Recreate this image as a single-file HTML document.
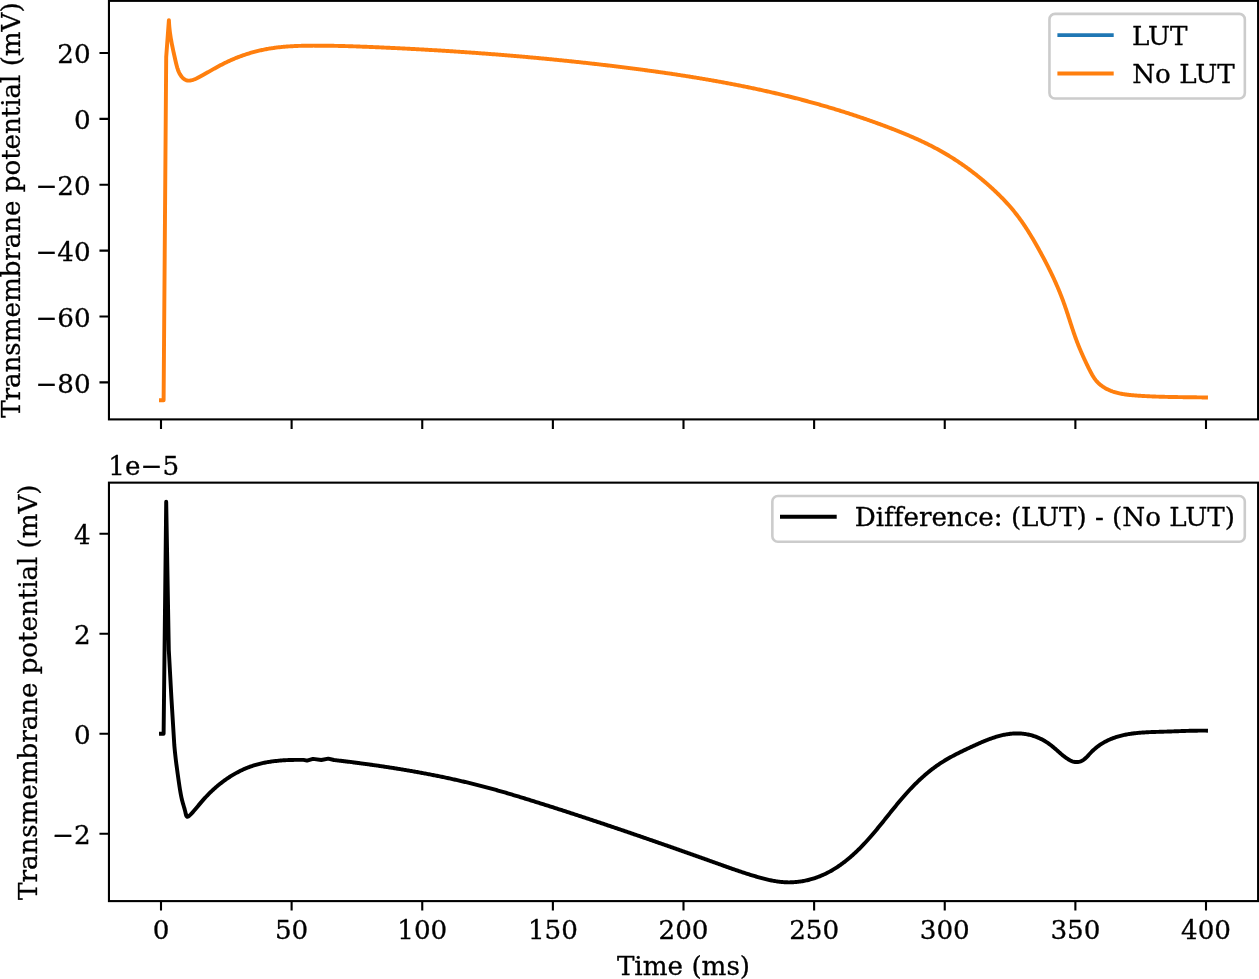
<!DOCTYPE html>
<html lang="en"><head><meta charset="utf-8"><title>LUT vs No LUT</title>
<style>html,body{margin:0;padding:0;background:#fff;}svg{display:block;}text{font-family:"DejaVu Serif", "Liberation Serif", serif;font-size:26.2px;fill:#000;stroke:#000;stroke-width:0.3px;stroke-linejoin:round;font-variant-ligatures:none;font-kerning:normal;}</style></head><body>
<svg width="1259" height="979" viewBox="0 0 1259 979">
<rect x="0" y="0" width="1259" height="979" fill="#fff"/>
<path d="M161.00,419.40v9.5 M291.62,419.40v9.5 M422.25,419.40v9.5 M552.88,419.40v9.5 M683.50,419.40v9.5 M814.12,419.40v9.5 M944.75,419.40v9.5 M1075.38,419.40v9.5 M1206.00,419.40v9.5 M108.95,53.00h-9.5 M108.95,118.88h-9.5 M108.95,184.76h-9.5 M108.95,250.64h-9.5 M108.95,316.52h-9.5 M108.95,382.40h-9.5" stroke="#000" stroke-width="2.1" fill="none"/>
<text x="90.7" y="63.10" text-anchor="end">20</text>
<text x="90.7" y="128.98" text-anchor="end">0</text>
<text x="90.7" y="194.86" text-anchor="end">−20</text>
<text x="90.7" y="260.74" text-anchor="end">−40</text>
<text x="90.7" y="326.62" text-anchor="end">−60</text>
<text x="90.7" y="392.50" text-anchor="end">−80</text>
<clipPath id="c1"><rect x="108.95" y="0.85" width="1149.1499999999999" height="418.54999999999995"/></clipPath>
<g clip-path="url(#c1)" fill="none" stroke-width="3.93" stroke-linejoin="round" stroke-linecap="square">
<path d="M161.00,400.30 L163.60,400.30 L166.20,57.00 L168.90,20.10 L168.94,21.14 L168.99,22.17 L169.05,23.19 L169.12,24.21 L169.19,25.23 L169.27,26.24 L169.36,27.24 L169.46,28.24 L169.56,29.23 L169.67,30.22 L169.79,31.21 L169.91,32.19 L170.04,33.17 L170.18,34.15 L170.32,35.12 L170.46,36.09 L170.62,37.06 L170.77,38.03 L170.94,39.00 L171.11,39.96 L171.28,40.93 L171.46,41.89 L171.64,42.86 L171.82,43.82 L172.02,44.78 L172.21,45.75 L172.41,46.71 L172.61,47.68 L172.81,48.65 L173.02,49.62 L173.23,50.59 L173.44,51.56 L173.66,52.54 L173.87,53.52 L174.09,54.50 L174.32,55.48 L174.54,56.47 L174.76,57.47 L174.99,58.46 L175.22,59.47 L175.45,60.47 L175.67,61.49 L175.91,62.50 L176.14,63.52 L176.39,64.53 L176.65,65.54 L176.92,66.55 L177.20,67.55 L177.51,68.53 L177.83,69.50 L178.18,70.46 L178.56,71.40 L178.96,72.32 L179.40,73.21 L179.87,74.09 L180.38,74.93 L180.93,75.75 L181.51,76.52 L182.13,77.25 L182.79,77.93 L183.48,78.55 L184.20,79.11 L184.96,79.58 L185.75,79.98 L186.57,80.29 L187.42,80.50 L188.30,80.61 L189.20,80.62 L190.12,80.54 L191.06,80.38 L192.02,80.16 L192.99,79.86 L193.96,79.52 L194.94,79.12 L195.92,78.69 L196.89,78.23 L197.86,77.74 L198.82,77.25 L199.77,76.75 L200.70,76.25 L201.61,75.75 L202.52,75.26 L203.41,74.76 L204.29,74.27 L205.16,73.78 L206.03,73.29 L206.90,72.80 L207.76,72.32 L208.61,71.83 L209.47,71.34 L210.33,70.86 L211.19,70.37 L212.05,69.88 L212.92,69.40 L213.78,68.91 L214.65,68.43 L215.52,67.95 L216.39,67.47 L217.26,66.99 L218.14,66.52 L219.02,66.05 L219.89,65.58 L220.78,65.11 L221.66,64.65 L222.55,64.19 L223.43,63.74 L224.32,63.29 L225.22,62.84 L226.11,62.40 L227.01,61.97 L227.92,61.54 L228.82,61.12 L229.73,60.70 L230.64,60.29 L231.55,59.88 L232.47,59.48 L233.39,59.08 L234.31,58.70 L235.24,58.31 L236.16,57.94 L237.09,57.56 L238.03,57.20 L238.96,56.84 L239.90,56.49 L240.84,56.14 L241.78,55.80 L242.72,55.46 L243.67,55.13 L244.62,54.81 L245.57,54.49 L246.52,54.18 L247.47,53.87 L248.43,53.57 L249.39,53.28 L250.35,52.99 L251.31,52.71 L252.27,52.43 L253.24,52.17 L254.20,51.90 L255.17,51.65 L256.14,51.39 L257.11,51.15 L258.08,50.91 L259.05,50.68 L260.03,50.45 L261.01,50.23 L261.98,50.02 L262.96,49.81 L263.94,49.61 L264.92,49.41 L265.90,49.22 L266.88,49.04 L267.87,48.87 L268.85,48.69 L269.83,48.53 L270.82,48.37 L271.81,48.22 L272.79,48.07 L273.78,47.93 L274.77,47.80 L275.76,47.66 L276.75,47.54 L277.74,47.42 L278.73,47.30 L279.72,47.19 L280.71,47.09 L281.71,46.99 L282.70,46.89 L283.69,46.80 L284.69,46.72 L285.68,46.63 L286.68,46.55 L287.68,46.48 L288.67,46.41 L289.67,46.34 L290.67,46.28 L291.66,46.22 L292.66,46.17 L293.66,46.12 L294.66,46.07 L295.66,46.02 L296.66,45.98 L297.66,45.94 L298.66,45.91 L299.66,45.88 L300.66,45.85 L301.66,45.82 L302.66,45.79 L303.66,45.77 L304.66,45.75 L305.66,45.74 L306.67,45.72 L307.67,45.71 L308.67,45.69 L309.67,45.69 L310.67,45.68 L311.67,45.67 L312.68,45.67 L313.68,45.66 L314.68,45.66 L315.68,45.66 L316.68,45.66 L317.68,45.66 L318.68,45.66 L319.69,45.67 L320.69,45.67 L321.69,45.68 L322.69,45.69 L323.69,45.69 L324.69,45.70 L325.69,45.71 L326.69,45.72 L327.69,45.74 L328.69,45.75 L329.69,45.76 L330.69,45.78 L331.69,45.79 L332.69,45.81 L333.69,45.83 L334.69,45.85 L335.69,45.86 L336.69,45.88 L337.69,45.91 L338.69,45.93 L339.69,45.95 L340.69,45.97 L341.69,46.00 L342.69,46.02 L343.69,46.05 L344.69,46.08 L345.69,46.10 L346.69,46.13 L347.69,46.16 L348.69,46.19 L349.69,46.22 L350.69,46.25 L351.69,46.28 L352.69,46.31 L353.69,46.35 L354.69,46.38 L355.69,46.41 L356.68,46.45 L357.68,46.48 L358.68,46.52 L359.68,46.55 L360.68,46.59 L361.68,46.63 L362.68,46.67 L363.68,46.70 L364.68,46.74 L365.68,46.78 L366.67,46.82 L367.67,46.86 L368.67,46.90 L369.67,46.94 L370.67,46.98 L371.67,47.02 L372.67,47.07 L373.67,47.11 L374.66,47.15 L375.66,47.19 L376.66,47.24 L377.66,47.28 L378.66,47.33 L379.66,47.37 L380.66,47.41 L381.66,47.46 L382.65,47.50 L383.65,47.55 L384.65,47.59 L385.65,47.64 L386.65,47.69 L387.65,47.73 L388.65,47.78 L389.64,47.82 L390.64,47.87 L391.64,47.92 L392.64,47.97 L393.64,48.01 L394.64,48.06 L395.64,48.11 L396.63,48.16 L397.63,48.21 L398.63,48.26 L399.63,48.31 L400.63,48.36 L401.63,48.41 L402.63,48.46 L403.62,48.51 L404.62,48.56 L405.62,48.61 L406.62,48.66 L407.62,48.71 L408.62,48.76 L409.61,48.82 L410.61,48.87 L411.61,48.92 L412.61,48.98 L413.61,49.03 L414.61,49.08 L415.60,49.14 L416.60,49.19 L417.60,49.24 L418.60,49.30 L419.60,49.35 L420.60,49.41 L421.59,49.47 L422.59,49.52 L423.59,49.58 L424.59,49.63 L425.59,49.69 L426.59,49.75 L427.58,49.81 L428.58,49.86 L429.58,49.92 L430.58,49.98 L431.58,50.04 L432.58,50.10 L433.57,50.16 L434.57,50.21 L435.57,50.27 L436.57,50.33 L437.57,50.39 L438.56,50.45 L439.56,50.52 L440.56,50.58 L441.56,50.64 L442.56,50.70 L443.55,50.76 L444.55,50.82 L445.55,50.89 L446.55,50.95 L447.55,51.01 L448.54,51.08 L449.54,51.14 L450.54,51.20 L451.54,51.27 L452.53,51.33 L453.53,51.40 L454.53,51.46 L455.53,51.53 L456.53,51.59 L457.52,51.66 L458.52,51.73 L459.52,51.79 L460.52,51.86 L461.51,51.93 L462.51,52.00 L463.51,52.06 L464.51,52.13 L465.50,52.20 L466.50,52.27 L467.50,52.34 L468.50,52.41 L469.50,52.48 L470.49,52.55 L471.49,52.62 L472.49,52.69 L473.48,52.76 L474.48,52.83 L475.48,52.90 L476.48,52.98 L477.47,53.05 L478.47,53.12 L479.47,53.19 L480.47,53.27 L481.46,53.34 L482.46,53.42 L483.46,53.49 L484.46,53.56 L485.45,53.64 L486.45,53.71 L487.45,53.79 L488.44,53.87 L489.44,53.94 L490.44,54.02 L491.44,54.09 L492.43,54.17 L493.43,54.25 L494.43,54.33 L495.42,54.41 L496.42,54.48 L497.42,54.56 L498.41,54.64 L499.41,54.72 L500.41,54.80 L501.40,54.88 L502.40,54.96 L503.40,55.04 L504.39,55.12 L505.39,55.20 L506.39,55.29 L507.38,55.37 L508.38,55.45 L509.38,55.53 L510.37,55.62 L511.37,55.70 L512.37,55.78 L513.36,55.87 L514.36,55.95 L515.36,56.03 L516.35,56.12 L517.35,56.21 L518.35,56.29 L519.34,56.38 L520.34,56.46 L521.33,56.55 L522.33,56.64 L523.33,56.72 L524.32,56.81 L525.32,56.90 L526.32,56.99 L527.31,57.08 L528.31,57.17 L529.30,57.25 L530.30,57.34 L531.30,57.43 L532.29,57.52 L533.29,57.62 L534.28,57.71 L535.28,57.80 L536.28,57.89 L537.27,57.98 L538.27,58.07 L539.26,58.17 L540.26,58.26 L541.25,58.35 L542.25,58.45 L543.25,58.54 L544.24,58.64 L545.24,58.73 L546.23,58.83 L547.23,58.92 L548.22,59.02 L549.22,59.11 L550.21,59.21 L551.21,59.31 L552.20,59.40 L553.20,59.50 L554.20,59.60 L555.19,59.70 L556.19,59.80 L557.18,59.90 L558.18,59.99 L559.17,60.09 L560.17,60.19 L561.16,60.29 L562.16,60.40 L563.15,60.50 L564.15,60.60 L565.14,60.70 L566.14,60.80 L567.13,60.90 L568.13,61.01 L569.12,61.11 L570.12,61.21 L571.11,61.32 L572.10,61.42 L573.10,61.53 L574.09,61.63 L575.09,61.74 L576.08,61.84 L577.08,61.95 L578.07,62.06 L579.07,62.16 L580.06,62.27 L581.05,62.38 L582.05,62.49 L583.04,62.60 L584.04,62.70 L585.03,62.81 L586.03,62.92 L587.02,63.03 L588.01,63.14 L589.01,63.25 L590.00,63.36 L591.00,63.48 L591.99,63.59 L592.98,63.70 L593.98,63.81 L594.97,63.93 L595.96,64.04 L596.96,64.15 L597.95,64.27 L598.95,64.38 L599.94,64.49 L600.93,64.61 L601.93,64.73 L602.92,64.84 L603.91,64.96 L604.91,65.07 L605.90,65.19 L606.89,65.31 L607.89,65.43 L608.88,65.54 L609.87,65.66 L610.87,65.78 L611.86,65.90 L612.85,66.02 L613.85,66.14 L614.84,66.26 L615.83,66.38 L616.82,66.50 L617.82,66.62 L618.81,66.75 L619.80,66.87 L620.80,66.99 L621.79,67.11 L622.78,67.24 L623.77,67.36 L624.77,67.49 L625.76,67.61 L626.75,67.74 L627.74,67.86 L628.74,67.99 L629.73,68.11 L630.72,68.24 L631.71,68.37 L632.70,68.49 L633.70,68.62 L634.69,68.75 L635.68,68.88 L636.67,69.01 L637.66,69.14 L638.66,69.27 L639.65,69.40 L640.64,69.53 L641.63,69.66 L642.62,69.79 L643.61,69.92 L644.61,70.06 L645.60,70.19 L646.59,70.32 L647.58,70.46 L648.57,70.59 L649.56,70.73 L650.55,70.86 L651.54,71.00 L652.54,71.13 L653.53,71.27 L654.52,71.41 L655.51,71.55 L656.50,71.69 L657.49,71.82 L658.48,71.96 L659.47,72.10 L660.46,72.24 L661.45,72.38 L662.44,72.53 L663.43,72.67 L664.42,72.81 L665.41,72.95 L666.40,73.10 L667.39,73.24 L668.38,73.39 L669.37,73.53 L670.36,73.68 L671.35,73.82 L672.34,73.97 L673.33,74.12 L674.32,74.27 L675.30,74.41 L676.29,74.56 L677.28,74.71 L678.27,74.86 L679.26,75.01 L680.25,75.17 L681.24,75.32 L682.22,75.47 L683.21,75.62 L684.20,75.78 L685.19,75.93 L686.18,76.09 L687.16,76.24 L688.15,76.40 L689.14,76.56 L690.13,76.71 L691.11,76.87 L692.10,77.03 L693.09,77.19 L694.07,77.35 L695.06,77.51 L696.05,77.67 L697.03,77.83 L698.02,78.00 L699.01,78.16 L699.99,78.32 L700.98,78.49 L701.97,78.65 L702.95,78.82 L703.94,78.99 L704.92,79.15 L705.91,79.32 L706.89,79.49 L707.88,79.66 L708.86,79.83 L709.85,80.00 L710.83,80.17 L711.82,80.35 L712.80,80.52 L713.79,80.69 L714.77,80.87 L715.76,81.04 L716.74,81.22 L717.72,81.39 L718.71,81.57 L719.69,81.75 L720.67,81.93 L721.66,82.11 L722.64,82.29 L723.62,82.47 L724.61,82.65 L725.59,82.83 L726.57,83.02 L727.55,83.20 L728.54,83.39 L729.52,83.57 L730.50,83.76 L731.48,83.95 L732.46,84.13 L733.44,84.32 L734.43,84.51 L735.41,84.70 L736.39,84.89 L737.37,85.09 L738.35,85.28 L739.33,85.47 L740.31,85.67 L741.29,85.86 L742.27,86.06 L743.25,86.26 L744.23,86.45 L745.21,86.65 L746.19,86.85 L747.17,87.05 L748.14,87.25 L749.12,87.45 L750.10,87.66 L751.08,87.86 L752.06,88.07 L753.04,88.27 L754.01,88.48 L754.99,88.68 L755.97,88.89 L756.95,89.10 L757.92,89.31 L758.90,89.52 L759.88,89.73 L760.85,89.95 L761.83,90.16 L762.81,90.37 L763.78,90.59 L764.76,90.80 L765.73,91.02 L766.71,91.24 L767.68,91.46 L768.66,91.68 L769.63,91.90 L770.61,92.12 L771.58,92.34 L772.55,92.57 L773.53,92.79 L774.50,93.02 L775.48,93.24 L776.45,93.47 L777.42,93.70 L778.39,93.93 L779.37,94.16 L780.34,94.39 L781.31,94.62 L782.28,94.85 L783.26,95.09 L784.23,95.32 L785.20,95.56 L786.17,95.80 L787.14,96.03 L788.11,96.27 L789.08,96.51 L790.05,96.75 L791.02,97.00 L791.99,97.24 L792.96,97.48 L793.93,97.73 L794.90,97.98 L795.87,98.22 L796.84,98.47 L797.81,98.72 L798.77,98.97 L799.74,99.22 L800.71,99.47 L801.68,99.73 L802.64,99.98 L803.61,100.24 L804.58,100.49 L805.54,100.75 L806.51,101.01 L807.48,101.27 L808.44,101.53 L809.41,101.79 L810.37,102.06 L811.34,102.32 L812.30,102.59 L813.27,102.85 L814.23,103.12 L815.20,103.39 L816.16,103.66 L817.12,103.93 L818.09,104.20 L819.05,104.47 L820.01,104.75 L820.97,105.02 L821.94,105.30 L822.90,105.57 L823.86,105.85 L824.82,106.13 L825.78,106.41 L826.74,106.69 L827.70,106.97 L828.66,107.26 L829.62,107.54 L830.58,107.83 L831.54,108.12 L832.50,108.40 L833.46,108.69 L834.42,108.98 L835.37,109.27 L836.33,109.57 L837.29,109.86 L838.24,110.15 L839.20,110.45 L840.16,110.75 L841.11,111.04 L842.07,111.34 L843.02,111.64 L843.98,111.94 L844.93,112.25 L845.89,112.55 L846.84,112.86 L847.79,113.16 L848.75,113.47 L849.70,113.78 L850.65,114.08 L851.61,114.39 L852.56,114.71 L853.51,115.02 L854.46,115.33 L855.41,115.65 L856.36,115.96 L857.31,116.28 L858.26,116.60 L859.21,116.91 L860.16,117.24 L861.11,117.56 L862.05,117.88 L863.00,118.20 L863.95,118.53 L864.89,118.85 L865.84,119.18 L866.79,119.51 L867.73,119.84 L868.68,120.17 L869.62,120.50 L870.57,120.83 L871.51,121.17 L872.45,121.50 L873.40,121.84 L874.34,122.17 L875.28,122.51 L876.22,122.85 L877.16,123.19 L878.11,123.53 L879.05,123.88 L879.99,124.22 L880.93,124.57 L881.87,124.91 L882.80,125.26 L883.74,125.61 L884.68,125.96 L885.62,126.31 L886.55,126.66 L887.49,127.01 L888.43,127.37 L889.36,127.72 L890.30,128.08 L891.23,128.44 L892.17,128.80 L893.10,129.16 L894.03,129.52 L894.96,129.89 L895.90,130.25 L896.83,130.62 L897.76,130.99 L898.69,131.36 L899.61,131.73 L900.54,132.10 L901.47,132.48 L902.40,132.85 L903.32,133.23 L904.25,133.61 L905.17,134.00 L906.09,134.38 L907.01,134.77 L907.94,135.15 L908.86,135.55 L909.77,135.94 L910.69,136.33 L911.61,136.73 L912.53,137.13 L913.44,137.53 L914.35,137.93 L915.27,138.34 L916.18,138.74 L917.09,139.15 L918.00,139.57 L918.91,139.98 L919.81,140.40 L920.72,140.82 L921.62,141.24 L922.53,141.67 L923.43,142.09 L924.33,142.52 L925.23,142.96 L926.13,143.39 L927.02,143.83 L927.92,144.27 L928.81,144.72 L929.70,145.16 L930.59,145.61 L931.48,146.07 L932.37,146.52 L933.26,146.98 L934.14,147.44 L935.02,147.91 L935.90,148.38 L936.78,148.85 L937.66,149.32 L938.54,149.80 L939.41,150.28 L940.28,150.77 L941.16,151.25 L942.02,151.75 L942.89,152.24 L943.76,152.74 L944.62,153.24 L945.48,153.75 L946.34,154.25 L947.20,154.77 L948.06,155.28 L948.91,155.80 L949.77,156.32 L950.62,156.85 L951.47,157.37 L952.31,157.91 L953.16,158.44 L954.00,158.98 L954.84,159.52 L955.68,160.07 L956.52,160.61 L957.36,161.16 L958.19,161.72 L959.02,162.28 L959.85,162.84 L960.68,163.40 L961.50,163.97 L962.33,164.54 L963.15,165.11 L963.97,165.68 L964.79,166.26 L965.60,166.85 L966.42,167.43 L967.23,168.02 L968.04,168.61 L968.84,169.20 L969.65,169.80 L970.45,170.40 L971.25,171.00 L972.05,171.61 L972.85,172.21 L973.64,172.82 L974.43,173.44 L975.22,174.06 L976.01,174.67 L976.80,175.30 L977.58,175.92 L978.36,176.55 L979.14,177.18 L979.92,177.81 L980.69,178.45 L981.46,179.09 L982.23,179.73 L983.00,180.37 L983.77,181.02 L984.53,181.67 L985.29,182.32 L986.05,182.97 L986.80,183.63 L987.56,184.29 L988.31,184.95 L989.06,185.61 L989.80,186.28 L990.55,186.95 L991.29,187.62 L992.03,188.29 L992.77,188.97 L993.50,189.65 L994.23,190.33 L994.96,191.01 L995.69,191.70 L996.41,192.39 L997.13,193.08 L997.85,193.77 L998.57,194.47 L999.28,195.17 L999.99,195.87 L1000.70,196.58 L1001.40,197.29 L1002.10,198.00 L1002.79,198.72 L1003.49,199.43 L1004.18,200.15 L1004.86,200.88 L1005.55,201.61 L1006.22,202.34 L1006.90,203.07 L1007.57,203.81 L1008.24,204.55 L1008.90,205.29 L1009.56,206.04 L1010.22,206.79 L1010.87,207.54 L1011.52,208.30 L1012.16,209.06 L1012.80,209.83 L1013.44,210.60 L1014.07,211.37 L1014.69,212.14 L1015.32,212.92 L1015.93,213.71 L1016.55,214.49 L1017.16,215.29 L1017.76,216.08 L1018.36,216.88 L1018.96,217.68 L1019.55,218.48 L1020.13,219.29 L1020.72,220.10 L1021.30,220.92 L1021.87,221.74 L1022.44,222.56 L1023.01,223.38 L1023.58,224.21 L1024.14,225.04 L1024.69,225.87 L1025.25,226.71 L1025.80,227.54 L1026.35,228.38 L1026.89,229.22 L1027.43,230.07 L1027.97,230.92 L1028.50,231.76 L1029.03,232.62 L1029.56,233.47 L1030.09,234.32 L1030.61,235.18 L1031.13,236.04 L1031.65,236.90 L1032.17,237.76 L1032.68,238.62 L1033.19,239.49 L1033.70,240.35 L1034.20,241.22 L1034.71,242.09 L1035.21,242.96 L1035.71,243.83 L1036.21,244.70 L1036.70,245.57 L1037.20,246.44 L1037.69,247.32 L1038.18,248.19 L1038.67,249.07 L1039.16,249.94 L1039.64,250.82 L1040.13,251.70 L1040.61,252.57 L1041.09,253.45 L1041.57,254.33 L1042.04,255.21 L1042.52,256.09 L1042.99,256.97 L1043.46,257.85 L1043.93,258.74 L1044.40,259.62 L1044.86,260.51 L1045.33,261.39 L1045.79,262.28 L1046.25,263.16 L1046.70,264.05 L1047.16,264.94 L1047.61,265.83 L1048.06,266.72 L1048.51,267.61 L1048.96,268.51 L1049.40,269.40 L1049.84,270.29 L1050.28,271.19 L1050.72,272.09 L1051.15,272.98 L1051.58,273.88 L1052.01,274.78 L1052.44,275.68 L1052.86,276.59 L1053.28,277.49 L1053.70,278.39 L1054.12,279.30 L1054.53,280.21 L1054.95,281.11 L1055.35,282.02 L1055.76,282.93 L1056.16,283.84 L1056.56,284.76 L1056.96,285.67 L1057.36,286.59 L1057.75,287.50 L1058.14,288.42 L1058.53,289.34 L1058.91,290.26 L1059.29,291.18 L1059.67,292.11 L1060.04,293.03 L1060.42,293.96 L1060.78,294.89 L1061.15,295.81 L1061.51,296.74 L1061.87,297.68 L1062.23,298.61 L1062.58,299.55 L1062.93,300.48 L1063.28,301.42 L1063.62,302.36 L1063.96,303.30 L1064.30,304.24 L1064.63,305.19 L1064.96,306.13 L1065.29,307.08 L1065.62,308.03 L1065.94,308.98 L1066.26,309.93 L1066.58,310.88 L1066.90,311.83 L1067.21,312.79 L1067.53,313.74 L1067.84,314.69 L1068.15,315.65 L1068.46,316.60 L1068.77,317.56 L1069.08,318.51 L1069.39,319.47 L1069.70,320.42 L1070.01,321.38 L1070.32,322.34 L1070.63,323.29 L1070.94,324.25 L1071.25,325.20 L1071.56,326.15 L1071.87,327.11 L1072.19,328.06 L1072.50,329.01 L1072.82,329.96 L1073.14,330.91 L1073.46,331.86 L1073.78,332.81 L1074.11,333.75 L1074.43,334.70 L1074.77,335.64 L1075.10,336.58 L1075.44,337.52 L1075.78,338.46 L1076.12,339.40 L1076.47,340.33 L1076.82,341.27 L1077.17,342.20 L1077.53,343.12 L1077.90,344.05 L1078.26,344.98 L1078.63,345.90 L1079.01,346.82 L1079.38,347.74 L1079.76,348.66 L1080.15,349.58 L1080.54,350.50 L1080.93,351.41 L1081.32,352.33 L1081.72,353.24 L1082.12,354.15 L1082.53,355.06 L1082.93,355.97 L1083.34,356.88 L1083.76,357.79 L1084.17,358.70 L1084.59,359.61 L1085.02,360.52 L1085.44,361.42 L1085.87,362.33 L1086.30,363.24 L1086.73,364.14 L1087.17,365.05 L1087.61,365.96 L1088.05,366.86 L1088.50,367.77 L1088.95,368.68 L1089.40,369.58 L1089.85,370.49 L1090.31,371.39 L1090.78,372.28 L1091.26,373.17 L1091.75,374.05 L1092.25,374.93 L1092.77,375.79 L1093.29,376.64 L1093.84,377.48 L1094.40,378.30 L1094.98,379.10 L1095.57,379.89 L1096.19,380.66 L1096.83,381.41 L1097.50,382.14 L1098.19,382.85 L1098.90,383.53 L1099.64,384.19 L1100.39,384.83 L1101.17,385.44 L1101.97,386.03 L1102.79,386.61 L1103.63,387.15 L1104.48,387.68 L1105.34,388.19 L1106.23,388.67 L1107.12,389.14 L1108.02,389.58 L1108.94,390.00 L1109.87,390.41 L1110.80,390.79 L1111.74,391.15 L1112.69,391.50 L1113.64,391.82 L1114.60,392.12 L1115.56,392.41 L1116.52,392.68 L1117.49,392.93 L1118.46,393.17 L1119.44,393.39 L1120.41,393.60 L1121.39,393.79 L1122.38,393.97 L1123.36,394.14 L1124.35,394.29 L1125.34,394.44 L1126.33,394.57 L1127.32,394.70 L1128.31,394.82 L1129.31,394.93 L1130.31,395.03 L1131.30,395.12 L1132.30,395.21 L1133.30,395.30 L1134.30,395.38 L1135.30,395.46 L1136.30,395.53 L1137.30,395.61 L1138.30,395.68 L1139.30,395.74 L1140.30,395.81 L1141.30,395.87 L1142.30,395.94 L1143.29,395.99 L1144.29,396.05 L1145.29,396.11 L1146.29,396.16 L1147.29,396.21 L1148.29,396.26 L1149.29,396.31 L1150.29,396.35 L1151.29,396.40 L1152.29,396.44 L1153.29,396.48 L1154.28,396.52 L1155.28,396.56 L1156.28,396.59 L1157.28,396.63 L1158.28,396.66 L1159.28,396.69 L1160.28,396.72 L1161.28,396.75 L1162.28,396.78 L1163.28,396.81 L1164.27,396.83 L1165.27,396.86 L1166.27,396.88 L1167.27,396.90 L1168.27,396.92 L1169.27,396.95 L1170.27,396.97 L1171.27,396.98 L1172.27,397.00 L1173.27,397.02 L1174.26,397.04 L1175.26,397.05 L1176.26,397.07 L1177.26,397.08 L1178.26,397.10 L1179.26,397.11 L1180.26,397.13 L1181.26,397.14 L1182.26,397.15 L1183.26,397.17 L1184.26,397.18 L1185.26,397.19 L1186.26,397.20 L1187.26,397.22 L1188.26,397.23 L1189.26,397.24 L1190.26,397.25 L1191.26,397.27 L1192.26,397.28 L1193.26,397.29 L1194.26,397.31 L1195.26,397.32 L1196.26,397.33 L1197.26,397.35 L1198.26,397.36 L1199.26,397.38 L1200.26,397.39 L1201.26,397.41 L1202.26,397.43 L1203.26,397.45 L1204.26,397.47 L1205.26,397.49 L1206.00,397.50" stroke="#1f77b4" stroke-width="2"/>
<path d="M161.00,400.30 L163.60,400.30 L166.20,57.00 L168.90,20.10 L168.94,21.14 L168.99,22.17 L169.05,23.19 L169.12,24.21 L169.19,25.23 L169.27,26.24 L169.36,27.24 L169.46,28.24 L169.56,29.23 L169.67,30.22 L169.79,31.21 L169.91,32.19 L170.04,33.17 L170.18,34.15 L170.32,35.12 L170.46,36.09 L170.62,37.06 L170.77,38.03 L170.94,39.00 L171.11,39.96 L171.28,40.93 L171.46,41.89 L171.64,42.86 L171.82,43.82 L172.02,44.78 L172.21,45.75 L172.41,46.71 L172.61,47.68 L172.81,48.65 L173.02,49.62 L173.23,50.59 L173.44,51.56 L173.66,52.54 L173.87,53.52 L174.09,54.50 L174.32,55.48 L174.54,56.47 L174.76,57.47 L174.99,58.46 L175.22,59.47 L175.45,60.47 L175.67,61.49 L175.91,62.50 L176.14,63.52 L176.39,64.53 L176.65,65.54 L176.92,66.55 L177.20,67.55 L177.51,68.53 L177.83,69.50 L178.18,70.46 L178.56,71.40 L178.96,72.32 L179.40,73.21 L179.87,74.09 L180.38,74.93 L180.93,75.75 L181.51,76.52 L182.13,77.25 L182.79,77.93 L183.48,78.55 L184.20,79.11 L184.96,79.58 L185.75,79.98 L186.57,80.29 L187.42,80.50 L188.30,80.61 L189.20,80.62 L190.12,80.54 L191.06,80.38 L192.02,80.16 L192.99,79.86 L193.96,79.52 L194.94,79.12 L195.92,78.69 L196.89,78.23 L197.86,77.74 L198.82,77.25 L199.77,76.75 L200.70,76.25 L201.61,75.75 L202.52,75.26 L203.41,74.76 L204.29,74.27 L205.16,73.78 L206.03,73.29 L206.90,72.80 L207.76,72.32 L208.61,71.83 L209.47,71.34 L210.33,70.86 L211.19,70.37 L212.05,69.88 L212.92,69.40 L213.78,68.91 L214.65,68.43 L215.52,67.95 L216.39,67.47 L217.26,66.99 L218.14,66.52 L219.02,66.05 L219.89,65.58 L220.78,65.11 L221.66,64.65 L222.55,64.19 L223.43,63.74 L224.32,63.29 L225.22,62.84 L226.11,62.40 L227.01,61.97 L227.92,61.54 L228.82,61.12 L229.73,60.70 L230.64,60.29 L231.55,59.88 L232.47,59.48 L233.39,59.08 L234.31,58.70 L235.24,58.31 L236.16,57.94 L237.09,57.56 L238.03,57.20 L238.96,56.84 L239.90,56.49 L240.84,56.14 L241.78,55.80 L242.72,55.46 L243.67,55.13 L244.62,54.81 L245.57,54.49 L246.52,54.18 L247.47,53.87 L248.43,53.57 L249.39,53.28 L250.35,52.99 L251.31,52.71 L252.27,52.43 L253.24,52.17 L254.20,51.90 L255.17,51.65 L256.14,51.39 L257.11,51.15 L258.08,50.91 L259.05,50.68 L260.03,50.45 L261.01,50.23 L261.98,50.02 L262.96,49.81 L263.94,49.61 L264.92,49.41 L265.90,49.22 L266.88,49.04 L267.87,48.87 L268.85,48.69 L269.83,48.53 L270.82,48.37 L271.81,48.22 L272.79,48.07 L273.78,47.93 L274.77,47.80 L275.76,47.66 L276.75,47.54 L277.74,47.42 L278.73,47.30 L279.72,47.19 L280.71,47.09 L281.71,46.99 L282.70,46.89 L283.69,46.80 L284.69,46.72 L285.68,46.63 L286.68,46.55 L287.68,46.48 L288.67,46.41 L289.67,46.34 L290.67,46.28 L291.66,46.22 L292.66,46.17 L293.66,46.12 L294.66,46.07 L295.66,46.02 L296.66,45.98 L297.66,45.94 L298.66,45.91 L299.66,45.88 L300.66,45.85 L301.66,45.82 L302.66,45.79 L303.66,45.77 L304.66,45.75 L305.66,45.74 L306.67,45.72 L307.67,45.71 L308.67,45.69 L309.67,45.69 L310.67,45.68 L311.67,45.67 L312.68,45.67 L313.68,45.66 L314.68,45.66 L315.68,45.66 L316.68,45.66 L317.68,45.66 L318.68,45.66 L319.69,45.67 L320.69,45.67 L321.69,45.68 L322.69,45.69 L323.69,45.69 L324.69,45.70 L325.69,45.71 L326.69,45.72 L327.69,45.74 L328.69,45.75 L329.69,45.76 L330.69,45.78 L331.69,45.79 L332.69,45.81 L333.69,45.83 L334.69,45.85 L335.69,45.86 L336.69,45.88 L337.69,45.91 L338.69,45.93 L339.69,45.95 L340.69,45.97 L341.69,46.00 L342.69,46.02 L343.69,46.05 L344.69,46.08 L345.69,46.10 L346.69,46.13 L347.69,46.16 L348.69,46.19 L349.69,46.22 L350.69,46.25 L351.69,46.28 L352.69,46.31 L353.69,46.35 L354.69,46.38 L355.69,46.41 L356.68,46.45 L357.68,46.48 L358.68,46.52 L359.68,46.55 L360.68,46.59 L361.68,46.63 L362.68,46.67 L363.68,46.70 L364.68,46.74 L365.68,46.78 L366.67,46.82 L367.67,46.86 L368.67,46.90 L369.67,46.94 L370.67,46.98 L371.67,47.02 L372.67,47.07 L373.67,47.11 L374.66,47.15 L375.66,47.19 L376.66,47.24 L377.66,47.28 L378.66,47.33 L379.66,47.37 L380.66,47.41 L381.66,47.46 L382.65,47.50 L383.65,47.55 L384.65,47.59 L385.65,47.64 L386.65,47.69 L387.65,47.73 L388.65,47.78 L389.64,47.82 L390.64,47.87 L391.64,47.92 L392.64,47.97 L393.64,48.01 L394.64,48.06 L395.64,48.11 L396.63,48.16 L397.63,48.21 L398.63,48.26 L399.63,48.31 L400.63,48.36 L401.63,48.41 L402.63,48.46 L403.62,48.51 L404.62,48.56 L405.62,48.61 L406.62,48.66 L407.62,48.71 L408.62,48.76 L409.61,48.82 L410.61,48.87 L411.61,48.92 L412.61,48.98 L413.61,49.03 L414.61,49.08 L415.60,49.14 L416.60,49.19 L417.60,49.24 L418.60,49.30 L419.60,49.35 L420.60,49.41 L421.59,49.47 L422.59,49.52 L423.59,49.58 L424.59,49.63 L425.59,49.69 L426.59,49.75 L427.58,49.81 L428.58,49.86 L429.58,49.92 L430.58,49.98 L431.58,50.04 L432.58,50.10 L433.57,50.16 L434.57,50.21 L435.57,50.27 L436.57,50.33 L437.57,50.39 L438.56,50.45 L439.56,50.52 L440.56,50.58 L441.56,50.64 L442.56,50.70 L443.55,50.76 L444.55,50.82 L445.55,50.89 L446.55,50.95 L447.55,51.01 L448.54,51.08 L449.54,51.14 L450.54,51.20 L451.54,51.27 L452.53,51.33 L453.53,51.40 L454.53,51.46 L455.53,51.53 L456.53,51.59 L457.52,51.66 L458.52,51.73 L459.52,51.79 L460.52,51.86 L461.51,51.93 L462.51,52.00 L463.51,52.06 L464.51,52.13 L465.50,52.20 L466.50,52.27 L467.50,52.34 L468.50,52.41 L469.50,52.48 L470.49,52.55 L471.49,52.62 L472.49,52.69 L473.48,52.76 L474.48,52.83 L475.48,52.90 L476.48,52.98 L477.47,53.05 L478.47,53.12 L479.47,53.19 L480.47,53.27 L481.46,53.34 L482.46,53.42 L483.46,53.49 L484.46,53.56 L485.45,53.64 L486.45,53.71 L487.45,53.79 L488.44,53.87 L489.44,53.94 L490.44,54.02 L491.44,54.09 L492.43,54.17 L493.43,54.25 L494.43,54.33 L495.42,54.41 L496.42,54.48 L497.42,54.56 L498.41,54.64 L499.41,54.72 L500.41,54.80 L501.40,54.88 L502.40,54.96 L503.40,55.04 L504.39,55.12 L505.39,55.20 L506.39,55.29 L507.38,55.37 L508.38,55.45 L509.38,55.53 L510.37,55.62 L511.37,55.70 L512.37,55.78 L513.36,55.87 L514.36,55.95 L515.36,56.03 L516.35,56.12 L517.35,56.21 L518.35,56.29 L519.34,56.38 L520.34,56.46 L521.33,56.55 L522.33,56.64 L523.33,56.72 L524.32,56.81 L525.32,56.90 L526.32,56.99 L527.31,57.08 L528.31,57.17 L529.30,57.25 L530.30,57.34 L531.30,57.43 L532.29,57.52 L533.29,57.62 L534.28,57.71 L535.28,57.80 L536.28,57.89 L537.27,57.98 L538.27,58.07 L539.26,58.17 L540.26,58.26 L541.25,58.35 L542.25,58.45 L543.25,58.54 L544.24,58.64 L545.24,58.73 L546.23,58.83 L547.23,58.92 L548.22,59.02 L549.22,59.11 L550.21,59.21 L551.21,59.31 L552.20,59.40 L553.20,59.50 L554.20,59.60 L555.19,59.70 L556.19,59.80 L557.18,59.90 L558.18,59.99 L559.17,60.09 L560.17,60.19 L561.16,60.29 L562.16,60.40 L563.15,60.50 L564.15,60.60 L565.14,60.70 L566.14,60.80 L567.13,60.90 L568.13,61.01 L569.12,61.11 L570.12,61.21 L571.11,61.32 L572.10,61.42 L573.10,61.53 L574.09,61.63 L575.09,61.74 L576.08,61.84 L577.08,61.95 L578.07,62.06 L579.07,62.16 L580.06,62.27 L581.05,62.38 L582.05,62.49 L583.04,62.60 L584.04,62.70 L585.03,62.81 L586.03,62.92 L587.02,63.03 L588.01,63.14 L589.01,63.25 L590.00,63.36 L591.00,63.48 L591.99,63.59 L592.98,63.70 L593.98,63.81 L594.97,63.93 L595.96,64.04 L596.96,64.15 L597.95,64.27 L598.95,64.38 L599.94,64.49 L600.93,64.61 L601.93,64.73 L602.92,64.84 L603.91,64.96 L604.91,65.07 L605.90,65.19 L606.89,65.31 L607.89,65.43 L608.88,65.54 L609.87,65.66 L610.87,65.78 L611.86,65.90 L612.85,66.02 L613.85,66.14 L614.84,66.26 L615.83,66.38 L616.82,66.50 L617.82,66.62 L618.81,66.75 L619.80,66.87 L620.80,66.99 L621.79,67.11 L622.78,67.24 L623.77,67.36 L624.77,67.49 L625.76,67.61 L626.75,67.74 L627.74,67.86 L628.74,67.99 L629.73,68.11 L630.72,68.24 L631.71,68.37 L632.70,68.49 L633.70,68.62 L634.69,68.75 L635.68,68.88 L636.67,69.01 L637.66,69.14 L638.66,69.27 L639.65,69.40 L640.64,69.53 L641.63,69.66 L642.62,69.79 L643.61,69.92 L644.61,70.06 L645.60,70.19 L646.59,70.32 L647.58,70.46 L648.57,70.59 L649.56,70.73 L650.55,70.86 L651.54,71.00 L652.54,71.13 L653.53,71.27 L654.52,71.41 L655.51,71.55 L656.50,71.69 L657.49,71.82 L658.48,71.96 L659.47,72.10 L660.46,72.24 L661.45,72.38 L662.44,72.53 L663.43,72.67 L664.42,72.81 L665.41,72.95 L666.40,73.10 L667.39,73.24 L668.38,73.39 L669.37,73.53 L670.36,73.68 L671.35,73.82 L672.34,73.97 L673.33,74.12 L674.32,74.27 L675.30,74.41 L676.29,74.56 L677.28,74.71 L678.27,74.86 L679.26,75.01 L680.25,75.17 L681.24,75.32 L682.22,75.47 L683.21,75.62 L684.20,75.78 L685.19,75.93 L686.18,76.09 L687.16,76.24 L688.15,76.40 L689.14,76.56 L690.13,76.71 L691.11,76.87 L692.10,77.03 L693.09,77.19 L694.07,77.35 L695.06,77.51 L696.05,77.67 L697.03,77.83 L698.02,78.00 L699.01,78.16 L699.99,78.32 L700.98,78.49 L701.97,78.65 L702.95,78.82 L703.94,78.99 L704.92,79.15 L705.91,79.32 L706.89,79.49 L707.88,79.66 L708.86,79.83 L709.85,80.00 L710.83,80.17 L711.82,80.35 L712.80,80.52 L713.79,80.69 L714.77,80.87 L715.76,81.04 L716.74,81.22 L717.72,81.39 L718.71,81.57 L719.69,81.75 L720.67,81.93 L721.66,82.11 L722.64,82.29 L723.62,82.47 L724.61,82.65 L725.59,82.83 L726.57,83.02 L727.55,83.20 L728.54,83.39 L729.52,83.57 L730.50,83.76 L731.48,83.95 L732.46,84.13 L733.44,84.32 L734.43,84.51 L735.41,84.70 L736.39,84.89 L737.37,85.09 L738.35,85.28 L739.33,85.47 L740.31,85.67 L741.29,85.86 L742.27,86.06 L743.25,86.26 L744.23,86.45 L745.21,86.65 L746.19,86.85 L747.17,87.05 L748.14,87.25 L749.12,87.45 L750.10,87.66 L751.08,87.86 L752.06,88.07 L753.04,88.27 L754.01,88.48 L754.99,88.68 L755.97,88.89 L756.95,89.10 L757.92,89.31 L758.90,89.52 L759.88,89.73 L760.85,89.95 L761.83,90.16 L762.81,90.37 L763.78,90.59 L764.76,90.80 L765.73,91.02 L766.71,91.24 L767.68,91.46 L768.66,91.68 L769.63,91.90 L770.61,92.12 L771.58,92.34 L772.55,92.57 L773.53,92.79 L774.50,93.02 L775.48,93.24 L776.45,93.47 L777.42,93.70 L778.39,93.93 L779.37,94.16 L780.34,94.39 L781.31,94.62 L782.28,94.85 L783.26,95.09 L784.23,95.32 L785.20,95.56 L786.17,95.80 L787.14,96.03 L788.11,96.27 L789.08,96.51 L790.05,96.75 L791.02,97.00 L791.99,97.24 L792.96,97.48 L793.93,97.73 L794.90,97.98 L795.87,98.22 L796.84,98.47 L797.81,98.72 L798.77,98.97 L799.74,99.22 L800.71,99.47 L801.68,99.73 L802.64,99.98 L803.61,100.24 L804.58,100.49 L805.54,100.75 L806.51,101.01 L807.48,101.27 L808.44,101.53 L809.41,101.79 L810.37,102.06 L811.34,102.32 L812.30,102.59 L813.27,102.85 L814.23,103.12 L815.20,103.39 L816.16,103.66 L817.12,103.93 L818.09,104.20 L819.05,104.47 L820.01,104.75 L820.97,105.02 L821.94,105.30 L822.90,105.57 L823.86,105.85 L824.82,106.13 L825.78,106.41 L826.74,106.69 L827.70,106.97 L828.66,107.26 L829.62,107.54 L830.58,107.83 L831.54,108.12 L832.50,108.40 L833.46,108.69 L834.42,108.98 L835.37,109.27 L836.33,109.57 L837.29,109.86 L838.24,110.15 L839.20,110.45 L840.16,110.75 L841.11,111.04 L842.07,111.34 L843.02,111.64 L843.98,111.94 L844.93,112.25 L845.89,112.55 L846.84,112.86 L847.79,113.16 L848.75,113.47 L849.70,113.78 L850.65,114.08 L851.61,114.39 L852.56,114.71 L853.51,115.02 L854.46,115.33 L855.41,115.65 L856.36,115.96 L857.31,116.28 L858.26,116.60 L859.21,116.91 L860.16,117.24 L861.11,117.56 L862.05,117.88 L863.00,118.20 L863.95,118.53 L864.89,118.85 L865.84,119.18 L866.79,119.51 L867.73,119.84 L868.68,120.17 L869.62,120.50 L870.57,120.83 L871.51,121.17 L872.45,121.50 L873.40,121.84 L874.34,122.17 L875.28,122.51 L876.22,122.85 L877.16,123.19 L878.11,123.53 L879.05,123.88 L879.99,124.22 L880.93,124.57 L881.87,124.91 L882.80,125.26 L883.74,125.61 L884.68,125.96 L885.62,126.31 L886.55,126.66 L887.49,127.01 L888.43,127.37 L889.36,127.72 L890.30,128.08 L891.23,128.44 L892.17,128.80 L893.10,129.16 L894.03,129.52 L894.96,129.89 L895.90,130.25 L896.83,130.62 L897.76,130.99 L898.69,131.36 L899.61,131.73 L900.54,132.10 L901.47,132.48 L902.40,132.85 L903.32,133.23 L904.25,133.61 L905.17,134.00 L906.09,134.38 L907.01,134.77 L907.94,135.15 L908.86,135.55 L909.77,135.94 L910.69,136.33 L911.61,136.73 L912.53,137.13 L913.44,137.53 L914.35,137.93 L915.27,138.34 L916.18,138.74 L917.09,139.15 L918.00,139.57 L918.91,139.98 L919.81,140.40 L920.72,140.82 L921.62,141.24 L922.53,141.67 L923.43,142.09 L924.33,142.52 L925.23,142.96 L926.13,143.39 L927.02,143.83 L927.92,144.27 L928.81,144.72 L929.70,145.16 L930.59,145.61 L931.48,146.07 L932.37,146.52 L933.26,146.98 L934.14,147.44 L935.02,147.91 L935.90,148.38 L936.78,148.85 L937.66,149.32 L938.54,149.80 L939.41,150.28 L940.28,150.77 L941.16,151.25 L942.02,151.75 L942.89,152.24 L943.76,152.74 L944.62,153.24 L945.48,153.75 L946.34,154.25 L947.20,154.77 L948.06,155.28 L948.91,155.80 L949.77,156.32 L950.62,156.85 L951.47,157.37 L952.31,157.91 L953.16,158.44 L954.00,158.98 L954.84,159.52 L955.68,160.07 L956.52,160.61 L957.36,161.16 L958.19,161.72 L959.02,162.28 L959.85,162.84 L960.68,163.40 L961.50,163.97 L962.33,164.54 L963.15,165.11 L963.97,165.68 L964.79,166.26 L965.60,166.85 L966.42,167.43 L967.23,168.02 L968.04,168.61 L968.84,169.20 L969.65,169.80 L970.45,170.40 L971.25,171.00 L972.05,171.61 L972.85,172.21 L973.64,172.82 L974.43,173.44 L975.22,174.06 L976.01,174.67 L976.80,175.30 L977.58,175.92 L978.36,176.55 L979.14,177.18 L979.92,177.81 L980.69,178.45 L981.46,179.09 L982.23,179.73 L983.00,180.37 L983.77,181.02 L984.53,181.67 L985.29,182.32 L986.05,182.97 L986.80,183.63 L987.56,184.29 L988.31,184.95 L989.06,185.61 L989.80,186.28 L990.55,186.95 L991.29,187.62 L992.03,188.29 L992.77,188.97 L993.50,189.65 L994.23,190.33 L994.96,191.01 L995.69,191.70 L996.41,192.39 L997.13,193.08 L997.85,193.77 L998.57,194.47 L999.28,195.17 L999.99,195.87 L1000.70,196.58 L1001.40,197.29 L1002.10,198.00 L1002.79,198.72 L1003.49,199.43 L1004.18,200.15 L1004.86,200.88 L1005.55,201.61 L1006.22,202.34 L1006.90,203.07 L1007.57,203.81 L1008.24,204.55 L1008.90,205.29 L1009.56,206.04 L1010.22,206.79 L1010.87,207.54 L1011.52,208.30 L1012.16,209.06 L1012.80,209.83 L1013.44,210.60 L1014.07,211.37 L1014.69,212.14 L1015.32,212.92 L1015.93,213.71 L1016.55,214.49 L1017.16,215.29 L1017.76,216.08 L1018.36,216.88 L1018.96,217.68 L1019.55,218.48 L1020.13,219.29 L1020.72,220.10 L1021.30,220.92 L1021.87,221.74 L1022.44,222.56 L1023.01,223.38 L1023.58,224.21 L1024.14,225.04 L1024.69,225.87 L1025.25,226.71 L1025.80,227.54 L1026.35,228.38 L1026.89,229.22 L1027.43,230.07 L1027.97,230.92 L1028.50,231.76 L1029.03,232.62 L1029.56,233.47 L1030.09,234.32 L1030.61,235.18 L1031.13,236.04 L1031.65,236.90 L1032.17,237.76 L1032.68,238.62 L1033.19,239.49 L1033.70,240.35 L1034.20,241.22 L1034.71,242.09 L1035.21,242.96 L1035.71,243.83 L1036.21,244.70 L1036.70,245.57 L1037.20,246.44 L1037.69,247.32 L1038.18,248.19 L1038.67,249.07 L1039.16,249.94 L1039.64,250.82 L1040.13,251.70 L1040.61,252.57 L1041.09,253.45 L1041.57,254.33 L1042.04,255.21 L1042.52,256.09 L1042.99,256.97 L1043.46,257.85 L1043.93,258.74 L1044.40,259.62 L1044.86,260.51 L1045.33,261.39 L1045.79,262.28 L1046.25,263.16 L1046.70,264.05 L1047.16,264.94 L1047.61,265.83 L1048.06,266.72 L1048.51,267.61 L1048.96,268.51 L1049.40,269.40 L1049.84,270.29 L1050.28,271.19 L1050.72,272.09 L1051.15,272.98 L1051.58,273.88 L1052.01,274.78 L1052.44,275.68 L1052.86,276.59 L1053.28,277.49 L1053.70,278.39 L1054.12,279.30 L1054.53,280.21 L1054.95,281.11 L1055.35,282.02 L1055.76,282.93 L1056.16,283.84 L1056.56,284.76 L1056.96,285.67 L1057.36,286.59 L1057.75,287.50 L1058.14,288.42 L1058.53,289.34 L1058.91,290.26 L1059.29,291.18 L1059.67,292.11 L1060.04,293.03 L1060.42,293.96 L1060.78,294.89 L1061.15,295.81 L1061.51,296.74 L1061.87,297.68 L1062.23,298.61 L1062.58,299.55 L1062.93,300.48 L1063.28,301.42 L1063.62,302.36 L1063.96,303.30 L1064.30,304.24 L1064.63,305.19 L1064.96,306.13 L1065.29,307.08 L1065.62,308.03 L1065.94,308.98 L1066.26,309.93 L1066.58,310.88 L1066.90,311.83 L1067.21,312.79 L1067.53,313.74 L1067.84,314.69 L1068.15,315.65 L1068.46,316.60 L1068.77,317.56 L1069.08,318.51 L1069.39,319.47 L1069.70,320.42 L1070.01,321.38 L1070.32,322.34 L1070.63,323.29 L1070.94,324.25 L1071.25,325.20 L1071.56,326.15 L1071.87,327.11 L1072.19,328.06 L1072.50,329.01 L1072.82,329.96 L1073.14,330.91 L1073.46,331.86 L1073.78,332.81 L1074.11,333.75 L1074.43,334.70 L1074.77,335.64 L1075.10,336.58 L1075.44,337.52 L1075.78,338.46 L1076.12,339.40 L1076.47,340.33 L1076.82,341.27 L1077.17,342.20 L1077.53,343.12 L1077.90,344.05 L1078.26,344.98 L1078.63,345.90 L1079.01,346.82 L1079.38,347.74 L1079.76,348.66 L1080.15,349.58 L1080.54,350.50 L1080.93,351.41 L1081.32,352.33 L1081.72,353.24 L1082.12,354.15 L1082.53,355.06 L1082.93,355.97 L1083.34,356.88 L1083.76,357.79 L1084.17,358.70 L1084.59,359.61 L1085.02,360.52 L1085.44,361.42 L1085.87,362.33 L1086.30,363.24 L1086.73,364.14 L1087.17,365.05 L1087.61,365.96 L1088.05,366.86 L1088.50,367.77 L1088.95,368.68 L1089.40,369.58 L1089.85,370.49 L1090.31,371.39 L1090.78,372.28 L1091.26,373.17 L1091.75,374.05 L1092.25,374.93 L1092.77,375.79 L1093.29,376.64 L1093.84,377.48 L1094.40,378.30 L1094.98,379.10 L1095.57,379.89 L1096.19,380.66 L1096.83,381.41 L1097.50,382.14 L1098.19,382.85 L1098.90,383.53 L1099.64,384.19 L1100.39,384.83 L1101.17,385.44 L1101.97,386.03 L1102.79,386.61 L1103.63,387.15 L1104.48,387.68 L1105.34,388.19 L1106.23,388.67 L1107.12,389.14 L1108.02,389.58 L1108.94,390.00 L1109.87,390.41 L1110.80,390.79 L1111.74,391.15 L1112.69,391.50 L1113.64,391.82 L1114.60,392.12 L1115.56,392.41 L1116.52,392.68 L1117.49,392.93 L1118.46,393.17 L1119.44,393.39 L1120.41,393.60 L1121.39,393.79 L1122.38,393.97 L1123.36,394.14 L1124.35,394.29 L1125.34,394.44 L1126.33,394.57 L1127.32,394.70 L1128.31,394.82 L1129.31,394.93 L1130.31,395.03 L1131.30,395.12 L1132.30,395.21 L1133.30,395.30 L1134.30,395.38 L1135.30,395.46 L1136.30,395.53 L1137.30,395.61 L1138.30,395.68 L1139.30,395.74 L1140.30,395.81 L1141.30,395.87 L1142.30,395.94 L1143.29,395.99 L1144.29,396.05 L1145.29,396.11 L1146.29,396.16 L1147.29,396.21 L1148.29,396.26 L1149.29,396.31 L1150.29,396.35 L1151.29,396.40 L1152.29,396.44 L1153.29,396.48 L1154.28,396.52 L1155.28,396.56 L1156.28,396.59 L1157.28,396.63 L1158.28,396.66 L1159.28,396.69 L1160.28,396.72 L1161.28,396.75 L1162.28,396.78 L1163.28,396.81 L1164.27,396.83 L1165.27,396.86 L1166.27,396.88 L1167.27,396.90 L1168.27,396.92 L1169.27,396.95 L1170.27,396.97 L1171.27,396.98 L1172.27,397.00 L1173.27,397.02 L1174.26,397.04 L1175.26,397.05 L1176.26,397.07 L1177.26,397.08 L1178.26,397.10 L1179.26,397.11 L1180.26,397.13 L1181.26,397.14 L1182.26,397.15 L1183.26,397.17 L1184.26,397.18 L1185.26,397.19 L1186.26,397.20 L1187.26,397.22 L1188.26,397.23 L1189.26,397.24 L1190.26,397.25 L1191.26,397.27 L1192.26,397.28 L1193.26,397.29 L1194.26,397.31 L1195.26,397.32 L1196.26,397.33 L1197.26,397.35 L1198.26,397.36 L1199.26,397.38 L1200.26,397.39 L1201.26,397.41 L1202.26,397.43 L1203.26,397.45 L1204.26,397.47 L1205.26,397.49 L1206.00,397.50" stroke="#ff7f0e"/>
</g>
<rect x="108.95" y="0.85" width="1149.15" height="418.55" fill="none" stroke="#000" stroke-width="2.1"/>
<text transform="translate(20.0,210.1) rotate(-90)" text-anchor="middle" textLength="415.5" lengthAdjust="spacing">Transmembrane potential (mV)</text>
<rect x="1049.45" y="13.9" width="195.4" height="84.6" rx="5.5" ry="5.5" fill="#fff" fill-opacity="0.8" stroke="#ccc" stroke-width="2.6"/>
<path d="M1057.4,35.1H1113.7" stroke="#1f77b4" stroke-width="3.93"/>
<path d="M1057.4,73.5H1113.7" stroke="#ff7f0e" stroke-width="3.93"/>
<text x="1132.05" y="44.5">LUT</text>
<text x="1132.2" y="82.8">No LUT</text>
<path d="M161.00,901.10v9.5 M291.62,901.10v9.5 M422.25,901.10v9.5 M552.88,901.10v9.5 M683.50,901.10v9.5 M814.12,901.10v9.5 M944.75,901.10v9.5 M1075.38,901.10v9.5 M1206.00,901.10v9.5 M108.95,533.70h-9.5 M108.95,633.70h-9.5 M108.95,733.70h-9.5 M108.95,833.70h-9.5" stroke="#000" stroke-width="2.1" fill="none"/>
<text x="90.7" y="543.80" text-anchor="end">4</text>
<text x="90.7" y="643.80" text-anchor="end">2</text>
<text x="90.7" y="743.80" text-anchor="end">0</text>
<text x="90.7" y="843.80" text-anchor="end">−2</text>
<text x="161.00" y="939.0" text-anchor="middle">0</text>
<text x="291.62" y="939.0" text-anchor="middle">50</text>
<text x="422.25" y="939.0" text-anchor="middle">100</text>
<text x="552.88" y="939.0" text-anchor="middle">150</text>
<text x="683.50" y="939.0" text-anchor="middle">200</text>
<text x="814.12" y="939.0" text-anchor="middle">250</text>
<text x="944.75" y="939.0" text-anchor="middle">300</text>
<text x="1075.38" y="939.0" text-anchor="middle">350</text>
<text x="1206.00" y="939.0" text-anchor="middle">400</text>
<clipPath id="c2"><rect x="108.95" y="482.65" width="1149.1499999999999" height="418.45000000000005"/></clipPath>
<g clip-path="url(#c2)" fill="none" stroke-width="3.93" stroke-linejoin="round" stroke-linecap="square">
<path d="M161.00,733.70 L163.60,733.70 L166.20,501.80 L168.80,650.00 L171.45,698.60 L174.30,745.00 L174.39,746.01 L174.47,747.01 L174.57,748.02 L174.66,749.02 L174.76,750.02 L174.85,751.02 L174.96,752.02 L175.06,753.01 L175.17,754.01 L175.28,755.00 L175.39,755.99 L175.50,756.98 L175.61,757.97 L175.73,758.96 L175.85,759.95 L175.97,760.94 L176.09,761.92 L176.22,762.91 L176.34,763.89 L176.47,764.88 L176.60,765.87 L176.73,766.85 L176.86,767.84 L176.99,768.82 L177.13,769.81 L177.26,770.80 L177.40,771.78 L177.53,772.77 L177.67,773.76 L177.81,774.75 L177.95,775.74 L178.09,776.73 L178.23,777.72 L178.37,778.71 L178.52,779.71 L178.66,780.70 L178.80,781.70 L178.95,782.70 L179.09,783.70 L179.24,784.70 L179.38,785.70 L179.53,786.70 L179.69,787.70 L179.84,788.69 L180.00,789.69 L180.17,790.68 L180.34,791.68 L180.51,792.66 L180.69,793.65 L180.87,794.63 L181.07,795.61 L181.26,796.58 L181.47,797.55 L181.68,798.51 L181.90,799.47 L182.13,800.42 L182.37,801.36 L182.62,802.29 L182.88,803.22 L183.15,804.14 L183.42,805.07 L183.70,806.00 L183.98,806.94 L184.27,807.90 L184.55,808.89 L184.83,809.91 L185.10,810.96 L185.36,812.06 L185.61,813.21 L185.87,814.35 L186.17,815.38 L186.54,816.19 L187.02,816.69 L187.62,816.76 L188.35,816.45 L189.14,815.87 L189.95,815.15 L190.72,814.40 L191.46,813.64 L192.18,812.87 L192.87,812.10 L193.54,811.32 L194.21,810.54 L194.86,809.76 L195.51,808.98 L196.16,808.21 L196.80,807.44 L197.44,806.67 L198.08,805.90 L198.72,805.14 L199.36,804.38 L200.00,803.62 L200.63,802.87 L201.27,802.12 L201.92,801.38 L202.56,800.63 L203.21,799.89 L203.86,799.16 L204.52,798.42 L205.18,797.70 L205.85,796.97 L206.52,796.25 L207.20,795.53 L207.89,794.82 L208.58,794.11 L209.29,793.41 L209.99,792.70 L210.71,792.01 L211.43,791.32 L212.15,790.63 L212.88,789.95 L213.62,789.27 L214.36,788.60 L215.11,787.94 L215.87,787.28 L216.63,786.62 L217.40,785.97 L218.17,785.33 L218.95,784.69 L219.73,784.06 L220.52,783.43 L221.31,782.82 L222.11,782.20 L222.92,781.60 L223.73,781.00 L224.54,780.40 L225.36,779.82 L226.19,779.24 L227.02,778.67 L227.85,778.10 L228.69,777.55 L229.54,777.00 L230.39,776.45 L231.24,775.92 L232.10,775.39 L232.96,774.88 L233.83,774.37 L234.70,773.86 L235.57,773.37 L236.45,772.88 L237.34,772.41 L238.22,771.94 L239.12,771.48 L240.01,771.03 L240.91,770.59 L241.81,770.16 L242.72,769.74 L243.63,769.32 L244.55,768.92 L245.46,768.53 L246.38,768.14 L247.31,767.77 L248.24,767.41 L249.17,767.05 L250.10,766.71 L251.04,766.38 L251.98,766.06 L252.92,765.74 L253.87,765.44 L254.82,765.15 L255.77,764.87 L256.73,764.59 L257.68,764.33 L258.64,764.08 L259.61,763.83 L260.57,763.60 L261.54,763.37 L262.51,763.15 L263.48,762.94 L264.45,762.74 L265.43,762.55 L266.41,762.37 L267.39,762.19 L268.37,762.02 L269.35,761.86 L270.34,761.71 L271.32,761.56 L272.31,761.42 L273.30,761.29 L274.29,761.17 L275.28,761.05 L276.28,760.94 L277.27,760.83 L278.27,760.73 L279.26,760.64 L280.26,760.56 L281.26,760.48 L282.26,760.40 L283.26,760.33 L284.26,760.27 L285.26,760.21 L286.26,760.16 L287.26,760.11 L288.27,760.07 L289.27,760.03 L290.27,759.99 L291.28,759.96 L292.28,759.94 L293.28,759.92 L294.28,759.90 L295.29,759.89 L296.29,759.88 L297.29,759.87 L298.29,759.87 L299.30,759.87 L300.30,759.87 L301.30,759.88 L302.30,759.89 L303.30,759.90 L303.50,759.90 L307.00,760.65 L313.00,758.90 L321.30,760.00 L328.30,758.60 L334.00,760.00 L334.99,760.12 L335.98,760.23 L336.98,760.35 L337.97,760.47 L338.96,760.59 L339.95,760.71 L340.94,760.82 L341.93,760.94 L342.93,761.06 L343.92,761.19 L344.91,761.31 L345.90,761.43 L346.89,761.55 L347.88,761.68 L348.88,761.80 L349.87,761.92 L350.86,762.05 L351.85,762.17 L352.84,762.30 L353.83,762.43 L354.82,762.56 L355.82,762.68 L356.81,762.81 L357.80,762.94 L358.79,763.07 L359.78,763.20 L360.77,763.33 L361.76,763.47 L362.76,763.60 L363.75,763.73 L364.74,763.86 L365.73,764.00 L366.72,764.13 L367.71,764.27 L368.70,764.41 L369.69,764.54 L370.68,764.68 L371.67,764.82 L372.66,764.96 L373.65,765.10 L374.64,765.24 L375.63,765.38 L376.62,765.53 L377.61,765.67 L378.60,765.81 L379.59,765.96 L380.58,766.10 L381.57,766.25 L382.56,766.39 L383.55,766.54 L384.54,766.69 L385.53,766.84 L386.52,766.99 L387.51,767.14 L388.50,767.29 L389.49,767.44 L390.48,767.60 L391.47,767.75 L392.45,767.90 L393.44,768.06 L394.43,768.22 L395.42,768.37 L396.41,768.53 L397.40,768.69 L398.38,768.85 L399.37,769.01 L400.36,769.17 L401.35,769.33 L402.33,769.50 L403.32,769.66 L404.31,769.83 L405.29,769.99 L406.28,770.16 L407.27,770.33 L408.25,770.49 L409.24,770.66 L410.22,770.83 L411.21,771.00 L412.20,771.18 L413.18,771.35 L414.17,771.52 L415.15,771.70 L416.14,771.87 L417.12,772.05 L418.11,772.23 L419.09,772.41 L420.07,772.59 L421.06,772.77 L422.04,772.95 L423.03,773.13 L424.01,773.31 L424.99,773.50 L425.98,773.68 L426.96,773.87 L427.94,774.06 L428.92,774.25 L429.91,774.43 L430.89,774.63 L431.87,774.82 L432.85,775.01 L433.83,775.20 L434.81,775.40 L435.79,775.59 L436.77,775.79 L437.76,775.99 L438.74,776.19 L439.72,776.39 L440.70,776.59 L441.67,776.79 L442.65,776.99 L443.63,777.20 L444.61,777.40 L445.59,777.61 L446.57,777.81 L447.55,778.02 L448.52,778.23 L449.50,778.44 L450.48,778.66 L451.46,778.87 L452.43,779.08 L453.41,779.30 L454.38,779.51 L455.36,779.73 L456.34,779.95 L457.31,780.17 L458.29,780.39 L459.26,780.61 L460.24,780.84 L461.21,781.06 L462.18,781.29 L463.16,781.51 L464.13,781.74 L465.10,781.97 L466.08,782.20 L467.05,782.43 L468.02,782.67 L468.99,782.90 L469.96,783.14 L470.94,783.37 L471.91,783.61 L472.88,783.85 L473.85,784.09 L474.82,784.33 L475.79,784.58 L476.76,784.82 L477.73,785.07 L478.69,785.31 L479.66,785.56 L480.63,785.81 L481.60,786.06 L482.56,786.31 L483.53,786.57 L484.50,786.82 L485.46,787.08 L486.43,787.33 L487.40,787.59 L488.36,787.85 L489.33,788.11 L490.29,788.38 L491.25,788.64 L492.22,788.90 L493.18,789.17 L494.15,789.44 L495.11,789.71 L496.07,789.98 L497.03,790.25 L497.99,790.52 L498.96,790.79 L499.92,791.07 L500.88,791.34 L501.84,791.62 L502.80,791.90 L503.76,792.17 L504.72,792.45 L505.68,792.73 L506.64,793.01 L507.60,793.30 L508.56,793.58 L509.52,793.86 L510.48,794.15 L511.43,794.43 L512.39,794.72 L513.35,795.01 L514.31,795.29 L515.26,795.58 L516.22,795.87 L517.18,796.16 L518.14,796.45 L519.09,796.74 L520.05,797.03 L521.00,797.33 L521.96,797.62 L522.92,797.91 L523.87,798.20 L524.83,798.50 L525.78,798.79 L526.74,799.09 L527.69,799.38 L528.65,799.68 L529.60,799.98 L530.56,800.27 L531.51,800.57 L532.47,800.87 L533.42,801.17 L534.38,801.46 L535.33,801.76 L536.29,802.06 L537.24,802.36 L538.19,802.66 L539.15,802.96 L540.10,803.26 L541.05,803.56 L542.01,803.86 L542.96,804.16 L543.91,804.46 L544.87,804.76 L545.82,805.07 L546.77,805.37 L547.73,805.67 L548.68,805.97 L549.63,806.28 L550.59,806.58 L551.54,806.88 L552.49,807.19 L553.44,807.49 L554.39,807.80 L555.35,808.10 L556.30,808.41 L557.25,808.71 L558.20,809.02 L559.15,809.32 L560.11,809.63 L561.06,809.93 L562.01,810.24 L562.96,810.55 L563.91,810.86 L564.86,811.16 L565.81,811.47 L566.76,811.78 L567.72,812.09 L568.67,812.40 L569.62,812.71 L570.57,813.01 L571.52,813.32 L572.47,813.63 L573.42,813.94 L574.37,814.25 L575.32,814.56 L576.27,814.88 L577.22,815.19 L578.17,815.50 L579.12,815.81 L580.07,816.12 L581.02,816.43 L581.97,816.75 L582.92,817.06 L583.87,817.37 L584.82,817.68 L585.77,818.00 L586.72,818.31 L587.67,818.62 L588.62,818.94 L589.57,819.25 L590.51,819.57 L591.46,819.88 L592.41,820.20 L593.36,820.51 L594.31,820.83 L595.26,821.14 L596.21,821.46 L597.16,821.78 L598.10,822.09 L599.05,822.41 L600.00,822.73 L600.95,823.04 L601.90,823.36 L602.85,823.68 L603.79,823.99 L604.74,824.31 L605.69,824.63 L606.64,824.95 L607.59,825.27 L608.53,825.59 L609.48,825.91 L610.43,826.23 L611.38,826.54 L612.32,826.86 L613.27,827.18 L614.22,827.50 L615.17,827.82 L616.11,828.15 L617.06,828.47 L618.01,828.79 L618.96,829.11 L619.90,829.43 L620.85,829.75 L621.80,830.07 L622.74,830.39 L623.69,830.72 L624.64,831.04 L625.59,831.36 L626.53,831.68 L627.48,832.01 L628.43,832.33 L629.37,832.65 L630.32,832.98 L631.27,833.30 L632.21,833.63 L633.16,833.95 L634.10,834.27 L635.05,834.60 L636.00,834.92 L636.94,835.25 L637.89,835.57 L638.84,835.90 L639.78,836.22 L640.73,836.55 L641.67,836.87 L642.62,837.20 L643.56,837.53 L644.51,837.85 L645.46,838.18 L646.40,838.51 L647.35,838.83 L648.29,839.16 L649.24,839.49 L650.18,839.81 L651.13,840.14 L652.07,840.47 L653.02,840.80 L653.96,841.12 L654.91,841.45 L655.85,841.78 L656.80,842.11 L657.74,842.44 L658.69,842.77 L659.63,843.10 L660.58,843.42 L661.52,843.75 L662.47,844.08 L663.41,844.41 L664.36,844.74 L665.30,845.07 L666.24,845.40 L667.19,845.73 L668.13,846.06 L669.08,846.39 L670.02,846.72 L670.97,847.05 L671.91,847.39 L672.85,847.72 L673.80,848.05 L674.74,848.38 L675.68,848.71 L676.63,849.04 L677.57,849.37 L678.51,849.71 L679.46,850.04 L680.40,850.37 L681.34,850.70 L682.29,851.04 L683.23,851.37 L684.17,851.70 L685.12,852.03 L686.06,852.37 L687.00,852.70 L687.95,853.03 L688.89,853.37 L689.83,853.70 L690.77,854.03 L691.72,854.37 L692.66,854.70 L693.60,855.03 L694.54,855.37 L695.49,855.70 L696.43,856.04 L697.37,856.37 L698.31,856.71 L699.25,857.04 L700.20,857.38 L701.14,857.71 L702.08,858.05 L703.02,858.38 L703.96,858.72 L704.90,859.05 L705.84,859.39 L706.79,859.72 L707.73,860.06 L708.67,860.39 L709.61,860.73 L710.55,861.07 L711.49,861.40 L712.43,861.74 L713.37,862.07 L714.31,862.41 L715.26,862.75 L716.20,863.08 L717.14,863.42 L718.08,863.76 L719.02,864.09 L719.96,864.43 L720.90,864.77 L721.84,865.10 L722.78,865.44 L723.72,865.78 L724.66,866.11 L725.60,866.45 L726.54,866.78 L727.48,867.11 L728.43,867.45 L729.37,867.78 L730.31,868.11 L731.25,868.44 L732.20,868.77 L733.14,869.10 L734.08,869.43 L735.03,869.76 L735.97,870.08 L736.92,870.41 L737.86,870.73 L738.81,871.05 L739.76,871.37 L740.71,871.69 L741.65,872.00 L742.60,872.32 L743.55,872.63 L744.50,872.94 L745.46,873.25 L746.41,873.56 L747.36,873.87 L748.32,874.17 L749.27,874.47 L750.23,874.77 L751.18,875.07 L752.14,875.36 L753.10,875.65 L754.06,875.94 L755.02,876.23 L755.98,876.51 L756.95,876.79 L757.91,877.07 L758.88,877.35 L759.84,877.62 L760.81,877.88 L761.78,878.15 L762.75,878.40 L763.72,878.66 L764.70,878.90 L765.67,879.14 L766.65,879.38 L767.62,879.61 L768.60,879.83 L769.58,880.05 L770.56,880.25 L771.54,880.45 L772.52,880.64 L773.50,880.83 L774.48,881.00 L775.47,881.17 L776.45,881.32 L777.44,881.47 L778.43,881.61 L779.42,881.73 L780.41,881.85 L781.40,881.95 L782.39,882.04 L783.38,882.12 L784.37,882.19 L785.37,882.25 L786.37,882.29 L787.36,882.32 L788.36,882.34 L789.36,882.34 L790.36,882.33 L791.36,882.31 L792.36,882.27 L793.36,882.22 L794.36,882.16 L795.36,882.08 L796.36,881.99 L797.35,881.89 L798.35,881.78 L799.35,881.65 L800.34,881.51 L801.34,881.36 L802.33,881.20 L803.32,881.02 L804.31,880.84 L805.30,880.64 L806.28,880.43 L807.26,880.21 L808.24,879.97 L809.22,879.73 L810.19,879.47 L811.16,879.20 L812.12,878.92 L813.09,878.63 L814.04,878.33 L815.00,878.02 L815.95,877.70 L816.89,877.36 L817.83,877.02 L818.77,876.67 L819.70,876.30 L820.63,875.93 L821.55,875.54 L822.46,875.15 L823.37,874.74 L824.28,874.33 L825.18,873.90 L826.08,873.47 L826.97,873.03 L827.85,872.58 L828.73,872.11 L829.61,871.64 L830.48,871.17 L831.35,870.68 L832.21,870.18 L833.06,869.68 L833.92,869.17 L834.76,868.65 L835.61,868.12 L836.45,867.58 L837.28,867.04 L838.11,866.49 L838.93,865.93 L839.75,865.36 L840.57,864.79 L841.38,864.21 L842.19,863.62 L842.99,863.02 L843.79,862.42 L844.58,861.82 L845.37,861.20 L846.15,860.58 L846.94,859.96 L847.71,859.33 L848.48,858.69 L849.25,858.05 L850.02,857.40 L850.78,856.74 L851.53,856.08 L852.29,855.42 L853.03,854.75 L853.78,854.07 L854.52,853.39 L855.26,852.71 L855.99,852.02 L856.72,851.33 L857.44,850.63 L858.16,849.93 L858.88,849.23 L859.59,848.52 L860.30,847.80 L861.01,847.09 L861.71,846.37 L862.41,845.65 L863.11,844.92 L863.80,844.19 L864.49,843.46 L865.17,842.73 L865.86,841.99 L866.53,841.25 L867.21,840.51 L867.88,839.76 L868.55,839.02 L869.21,838.27 L869.88,837.52 L870.54,836.77 L871.19,836.01 L871.85,835.26 L872.50,834.50 L873.15,833.74 L873.79,832.98 L874.44,832.21 L875.08,831.45 L875.72,830.69 L876.36,829.92 L876.99,829.15 L877.63,828.38 L878.26,827.61 L878.89,826.84 L879.52,826.07 L880.15,825.30 L880.78,824.52 L881.41,823.75 L882.03,822.97 L882.66,822.20 L883.28,821.42 L883.90,820.64 L884.53,819.87 L885.15,819.09 L885.77,818.31 L886.39,817.53 L887.01,816.76 L887.63,815.98 L888.25,815.20 L888.88,814.42 L889.50,813.64 L890.12,812.87 L890.74,812.09 L891.37,811.31 L891.99,810.54 L892.62,809.76 L893.24,808.98 L893.87,808.21 L894.50,807.44 L895.13,806.66 L895.76,805.89 L896.39,805.12 L897.02,804.35 L897.66,803.58 L898.30,802.81 L898.94,802.05 L899.58,801.28 L900.22,800.52 L900.87,799.75 L901.51,798.99 L902.16,798.23 L902.82,797.48 L903.47,796.72 L904.13,795.97 L904.79,795.21 L905.45,794.46 L906.12,793.71 L906.79,792.97 L907.47,792.22 L908.14,791.48 L908.82,790.74 L909.51,790.01 L910.19,789.27 L910.88,788.54 L911.58,787.81 L912.28,787.08 L912.98,786.36 L913.68,785.64 L914.39,784.92 L915.10,784.21 L915.82,783.49 L916.54,782.79 L917.26,782.08 L917.99,781.38 L918.72,780.69 L919.45,779.99 L920.19,779.31 L920.93,778.62 L921.67,777.94 L922.42,777.27 L923.17,776.59 L923.93,775.93 L924.68,775.27 L925.45,774.61 L926.21,773.96 L926.98,773.31 L927.75,772.67 L928.53,772.03 L929.31,771.40 L930.09,770.77 L930.88,770.15 L931.66,769.53 L932.46,768.92 L933.25,768.32 L934.05,767.72 L934.86,767.13 L935.67,766.55 L936.48,765.97 L937.29,765.40 L938.11,764.83 L938.93,764.27 L939.75,763.72 L940.58,763.17 L941.41,762.63 L942.25,762.10 L943.09,761.57 L943.93,761.05 L944.77,760.54 L945.62,760.03 L946.47,759.52 L947.32,759.02 L948.18,758.53 L949.04,758.04 L949.90,757.56 L950.77,757.08 L951.64,756.60 L952.51,756.13 L953.38,755.67 L954.26,755.20 L955.14,754.74 L956.02,754.29 L956.90,753.84 L957.79,753.39 L958.68,752.94 L959.57,752.50 L960.46,752.05 L961.36,751.62 L962.25,751.18 L963.15,750.74 L964.06,750.31 L964.96,749.88 L965.86,749.45 L966.77,749.02 L967.68,748.59 L968.59,748.17 L969.50,747.74 L970.42,747.32 L971.33,746.89 L972.25,746.47 L973.17,746.04 L974.09,745.62 L975.01,745.20 L975.94,744.78 L976.86,744.36 L977.79,743.94 L978.72,743.53 L979.65,743.12 L980.58,742.72 L981.51,742.31 L982.45,741.92 L983.38,741.52 L984.32,741.13 L985.26,740.75 L986.20,740.37 L987.14,740.00 L988.08,739.64 L989.03,739.28 L989.98,738.93 L990.93,738.58 L991.87,738.25 L992.83,737.92 L993.78,737.60 L994.73,737.29 L995.69,736.99 L996.65,736.70 L997.61,736.41 L998.57,736.14 L999.53,735.88 L1000.49,735.63 L1001.46,735.39 L1002.42,735.17 L1003.39,734.95 L1004.36,734.75 L1005.33,734.56 L1006.31,734.39 L1007.28,734.22 L1008.26,734.07 L1009.23,733.94 L1010.21,733.82 L1011.19,733.72 L1012.17,733.63 L1013.16,733.55 L1014.14,733.49 L1015.13,733.45 L1016.12,733.43 L1017.11,733.42 L1018.10,733.43 L1019.09,733.46 L1020.08,733.50 L1021.08,733.57 L1022.07,733.65 L1023.07,733.75 L1024.06,733.87 L1025.05,734.00 L1026.04,734.16 L1027.03,734.33 L1028.02,734.52 L1029.00,734.73 L1029.98,734.96 L1030.95,735.20 L1031.92,735.47 L1032.89,735.75 L1033.85,736.05 L1034.80,736.37 L1035.74,736.71 L1036.68,737.07 L1037.61,737.44 L1038.53,737.83 L1039.45,738.24 L1040.36,738.67 L1041.26,739.11 L1042.15,739.57 L1043.03,740.05 L1043.90,740.54 L1044.77,741.04 L1045.63,741.57 L1046.48,742.10 L1047.32,742.65 L1048.15,743.21 L1048.97,743.79 L1049.79,744.38 L1050.59,744.98 L1051.39,745.59 L1052.17,746.22 L1052.95,746.86 L1053.72,747.50 L1054.49,748.15 L1055.25,748.81 L1056.00,749.48 L1056.76,750.14 L1057.51,750.81 L1058.26,751.48 L1059.02,752.15 L1059.77,752.81 L1060.53,753.47 L1061.30,754.13 L1062.07,754.77 L1062.85,755.41 L1063.63,756.04 L1064.43,756.66 L1065.24,757.26 L1066.06,757.85 L1066.89,758.42 L1067.74,758.97 L1068.60,759.51 L1069.48,760.01 L1070.37,760.48 L1071.28,760.90 L1072.20,761.26 L1073.13,761.56 L1074.08,761.79 L1075.03,761.95 L1075.99,762.03 L1076.94,762.04 L1077.88,761.98 L1078.82,761.85 L1079.73,761.64 L1080.62,761.36 L1081.49,761.00 L1082.32,760.57 L1083.14,760.07 L1083.93,759.51 L1084.70,758.91 L1085.45,758.25 L1086.19,757.56 L1086.92,756.84 L1087.64,756.09 L1088.36,755.33 L1089.07,754.55 L1089.79,753.78 L1090.51,753.00 L1091.23,752.24 L1091.97,751.49 L1092.71,750.76 L1093.46,750.04 L1094.23,749.35 L1095.00,748.67 L1095.78,748.01 L1096.57,747.37 L1097.37,746.75 L1098.18,746.14 L1099.00,745.55 L1099.82,744.97 L1100.65,744.42 L1101.49,743.87 L1102.34,743.35 L1103.19,742.84 L1104.05,742.34 L1104.92,741.86 L1105.80,741.40 L1106.68,740.95 L1107.56,740.51 L1108.46,740.09 L1109.36,739.68 L1110.26,739.29 L1111.17,738.91 L1112.09,738.55 L1113.01,738.20 L1113.93,737.86 L1114.86,737.53 L1115.80,737.22 L1116.74,736.92 L1117.68,736.63 L1118.62,736.35 L1119.57,736.09 L1120.53,735.83 L1121.49,735.59 L1122.45,735.36 L1123.41,735.14 L1124.38,734.93 L1125.35,734.73 L1126.33,734.53 L1127.30,734.35 L1128.28,734.18 L1129.27,734.02 L1130.25,733.86 L1131.24,733.71 L1132.23,733.57 L1133.22,733.44 L1134.22,733.32 L1135.21,733.20 L1136.21,733.09 L1137.21,732.99 L1138.21,732.89 L1139.21,732.80 L1140.22,732.71 L1141.22,732.63 L1142.23,732.56 L1143.24,732.49 L1144.25,732.42 L1145.26,732.36 L1146.27,732.31 L1147.28,732.25 L1148.29,732.20 L1149.30,732.16 L1150.31,732.12 L1151.32,732.07 L1152.33,732.04 L1153.34,732.00 L1154.35,731.97 L1155.37,731.93 L1156.38,731.90 L1157.38,731.87 L1158.39,731.84 L1159.40,731.81 L1160.41,731.78 L1161.41,731.75 L1162.42,731.72 L1163.42,731.69 L1164.42,731.66 L1165.42,731.63 L1166.42,731.59 L1167.41,731.56 L1168.41,731.53 L1169.41,731.49 L1170.40,731.46 L1171.39,731.42 L1172.39,731.39 L1173.38,731.35 L1174.37,731.31 L1175.36,731.28 L1176.35,731.24 L1177.34,731.21 L1178.33,731.17 L1179.32,731.14 L1180.31,731.10 L1181.30,731.07 L1182.29,731.04 L1183.28,731.00 L1184.27,730.97 L1185.26,730.94 L1186.25,730.91 L1187.24,730.88 L1188.23,730.86 L1189.23,730.83 L1190.22,730.80 L1191.21,730.78 L1192.21,730.76 L1193.21,730.74 L1194.20,730.72 L1195.20,730.70 L1196.20,730.69 L1197.20,730.67 L1198.21,730.66 L1199.21,730.65 L1200.22,730.65 L1201.23,730.64 L1202.23,730.64 L1203.25,730.64 L1204.26,730.64 L1205.28,730.64 L1206.00,730.65" stroke="#000"/>
</g>
<rect x="108.95" y="482.65" width="1149.15" height="418.45" fill="none" stroke="#000" stroke-width="2.1"/>
<text transform="translate(36.9,692.2) rotate(-90)" text-anchor="middle" textLength="415.5" lengthAdjust="spacing">Transmembrane potential (mV)</text>
<text x="108.3" y="475">1e−5</text>
<text x="683.5" y="974.9" text-anchor="middle">Time (ms)</text>
<rect x="772.35" y="496.0" width="472.45" height="45.7" rx="5.5" ry="5.5" fill="#fff" fill-opacity="0.8" stroke="#ccc" stroke-width="2.6"/>
<path d="M780,516.8H836.7" stroke="#000" stroke-width="3.93"/>
<text x="854.75" y="526.4" textLength="380.1" lengthAdjust="spacing">Difference: (LUT) - (No LUT)</text>
</svg></body></html>
